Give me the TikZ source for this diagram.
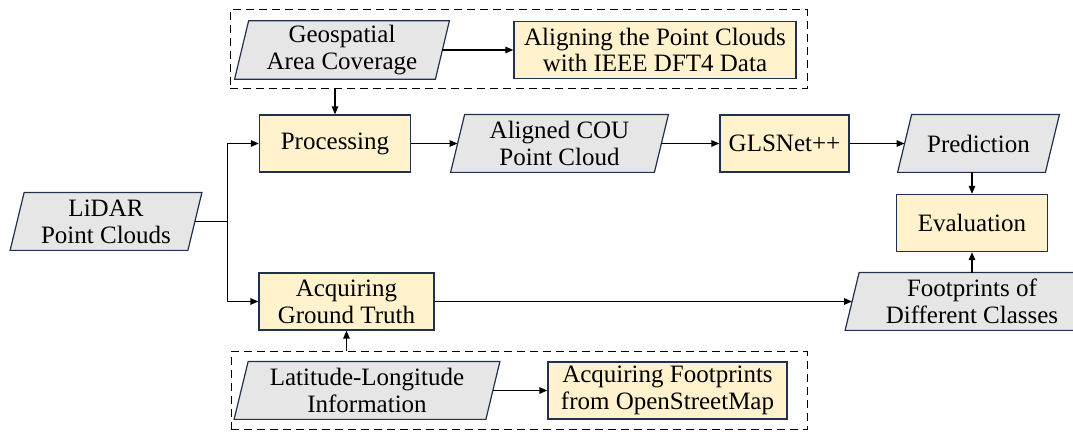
\documentclass[tikz,border=0pt]{standalone}
\usepackage{fontspec}
\setmainfont{Liberation Serif}
\usetikzlibrary{arrows.meta,backgrounds}

\definecolor{boxline}{RGB}{31,48,80}
\definecolor{procfill}{RGB}{255,242,204}
\definecolor{datafill}{RGB}{231,230,230}

\tikzset{
	proc/.style={draw=boxline, line width=0.6pt, fill=procfill, rectangle,
		minimum height=28.5pt, inner sep=2pt, align=center,
		font=\fontsize{12.5}{13.4}\selectfont},
	data/.style={rectangle, minimum height=28.5pt, inner sep=2pt, align=center,
		font=\fontsize{12.5}{13.4}\selectfont},
	slanted/.style={draw=boxline, line width=0.6pt, fill=datafill},
	grp/.style={draw, line width=0.5pt, dash pattern=on 4pt off 2.5pt,
		rectangle, inner sep=0pt},
	arr/.style={-{Triangle[length=4pt,width=3.2pt]}, line width=0.8pt},
}

\begin{document}
\begin{tikzpicture}[x=0.5pt, y=-0.5pt]
	\useasboundingbox (0,0) rectangle (1073,432);

	\node[grp, minimum width=288.5pt, minimum height=39.5pt] (topgrp) at (518.5, 49.5) {};
	\node[grp, minimum width=288pt, minimum height=39pt] (botgrp) at (519, 391) {};

	\node[data, minimum width=100pt] (geo) at (342, 50) {Geospatial\\Area Coverage};
	\node[proc, minimum width=141pt] (align) at (655, 50) {Aligning the Point Clouds\\with IEEE DFT4 Data};

	\node[data, minimum width=88.5pt] (lidar) at (106, 221.5) {LiDAR\\Point Clouds};
	\node[proc, minimum width=75.5pt] (proc) at (335, 143.5) {Processing};
	\node[data, minimum width=101.5pt] (cou) at (559.5, 143.5) {Aligned COU\\Point Cloud};
	\node[proc, minimum width=64.5pt] (net) at (784.5, 143.5) {GLSNet++};
	\node[data, minimum width=73.5pt] (pred) at (978.5, 143.5) {Prediction};
	\node[proc, minimum width=75.5pt] (eval) at (972, 223) {Evaluation};

	\node[proc, minimum width=87.5pt] (truth) at (346.5, 301.5) {Acquiring\\Ground Truth};
	\node[data, minimum width=119.5pt] (foot) at (972, 301.5) {Footprints of\\Different Classes};

	\node[data, minimum width=125.5pt] (latlon) at (367, 390.5) {Latitude-Longitude\\Information};
	\node[proc, minimum width=119.5pt] (osm) at (667.5, 390.5) {Acquiring Footprints\\from OpenStreetMap};

	\begin{scope}[on background layer]
		\foreach \n in {geo,lidar,cou,pred,foot,latlon}
			\draw[slanted] ([xshift=-3.5pt]\n.south west) -- ([xshift=-3.5pt]\n.south east)
				-- ([xshift=3.5pt]\n.north east) -- ([xshift=3.5pt]\n.north west) -- cycle;
	\end{scope}

	\coordinate (split) at (227.5, 221.5);

	\draw[arr] (geo.east) -- (align.west);
	\draw[arr] (topgrp.south -| proc.north) -- (proc.north);
	\draw[line width=0.8pt] (lidar.east) -- (split);
	\draw[arr] (split) |- (proc.west);
	\draw[arr] (split) |- (truth.west);
	\draw[arr] (proc.east) -- (cou.west);
	\draw[arr] (cou.east) -- (net.west);
	\draw[arr] (net.east) -- (pred.west);
	\draw[arr] (pred.south -| eval.north) -- (eval.north);
	\draw[arr] (foot.north) -- (eval.south);
	\draw[arr] (truth.east) -- (foot.west);
	\draw[arr] (botgrp.north -| truth.south) -- (truth.south);
	\draw[arr] (latlon.east) -- (osm.west);
\end{tikzpicture}
\end{document}
